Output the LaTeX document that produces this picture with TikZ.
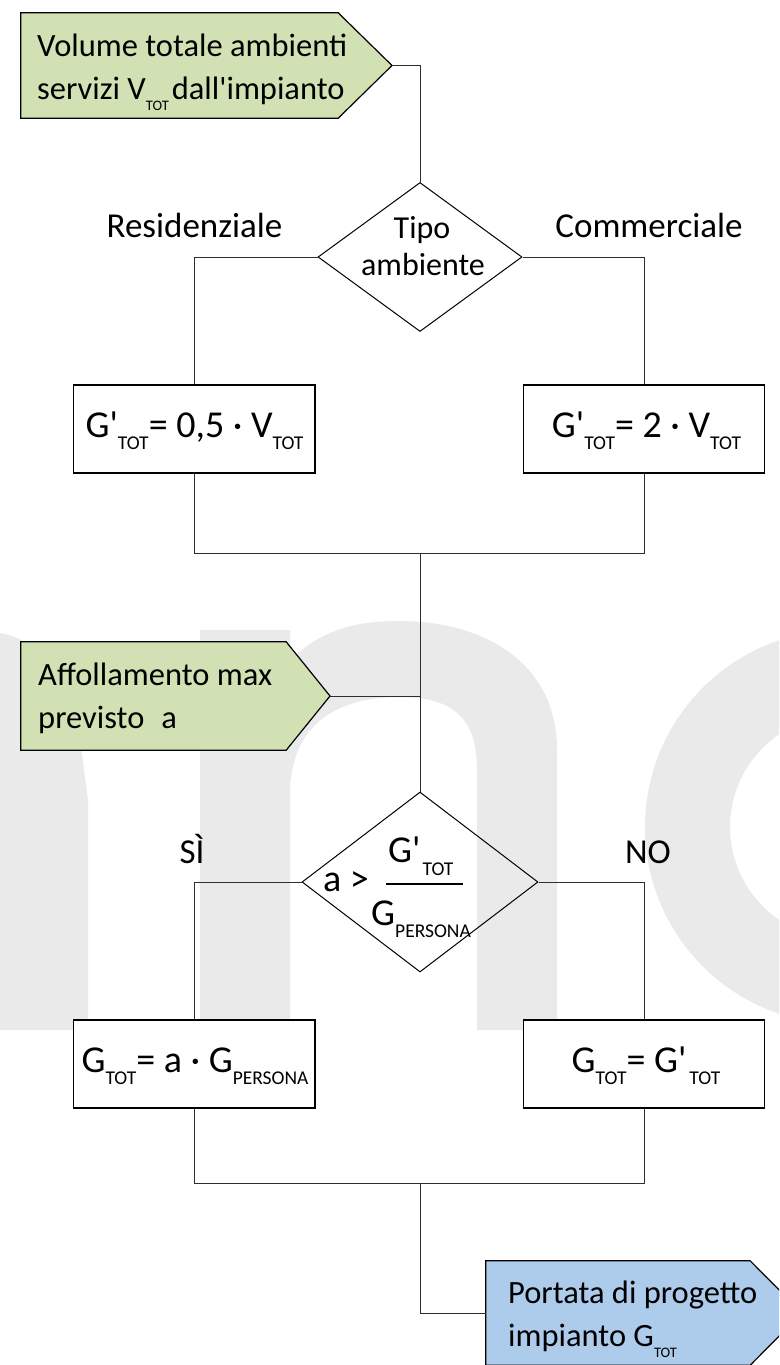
\documentclass[tikz,border=0pt]{standalone}
\usepackage{fontspec}
\setmainfont{Carlito}
\usetikzlibrary{shapes.geometric,calc}
\definecolor{inputgreen}{HTML}{D2E1B4}
\definecolor{outputblue}{HTML}{ADCBEA}
\definecolor{markgrey}{HTML}{EAEAEA}
\definecolor{wirecol}{HTML}{2E2E2E}

% subscripts set as small lowered text, as in the formulas
\newcommand\bigsub[1]{\raisebox{-12pt}{\fontsize{19.5pt}{19.5pt}\selectfont #1}}
\newcommand\smallsub[1]{\raisebox{-11pt}{\fontsize{14.5pt}{14.5pt}\selectfont #1}}
\newcommand\apos{\textquotesingle}

\begin{document}
\begin{tikzpicture}[x=1pt,y=-1pt,
  boxtext/.style={font=\fontsize{32.5pt}{43pt}\selectfont, inner sep=0pt, anchor=base west},
  branchlabel/.style={font=\fontsize{35pt}{42pt}\selectfont, inner sep=0pt, anchor=base},
  decisiontext/.style={font=\fontsize{32pt}{40pt}\selectfont, inner sep=0pt, anchor=base},
  formula/.style={font=\fontsize{38pt}{44pt}\selectfont, inner sep=0pt},
  calcbox/.style={draw=black, line width=1.2pt, fill=white, minimum width=241.5pt, minimum height=88pt, inner sep=0pt},
  decision/.style={draw=black, line width=1pt, diamond, inner sep=0pt},
  body/.style={inner sep=0pt},
  shapeline/.style={draw=black, line width=1.2pt},
  wire/.style={draw=wirecol, line width=1pt},
]
\useasboundingbox (0,0) rectangle (779,1365);
\clip (0,0) rectangle (779,1365);

% background lettering
\fill[markgrey] (0,633) .. controls (45,640) and (76,690) .. (84,770) -- (88,800) -- (88,1030) -- (0,1030) -- cycle;
\fill[markgrey] (200,630) -- (290,630) -- (290,660)
  .. controls (320,632) and (350,621) .. (400,621)
  .. controls (480,621) and (557,660) .. (557,750)
  -- (557,1030) -- (477,1030) -- (477,770)
  .. controls (477,720) and (455,697) .. (400,697)
  .. controls (330,697) and (292,730) .. (290,790)
  -- (290,1030) -- (200,1030) -- cycle;
\fill[markgrey, even odd rule] (842,827) circle[radius=197] (842,827) circle[radius=112];

% input: total volume
\node[body, minimum width=317pt, minimum height=105pt] (in1) at (179.5,65.5) {};
\coordinate (in1tip) at (392,65.5);
\filldraw[shapeline, fill=inputgreen] (in1.north west) -- (in1.north east) -- (in1tip) -- (in1.south east) -- (in1.south west) -- cycle;
\node[boxtext] (in1a) at (37,56) {Volume totale ambienti};
\node[boxtext] (in1b) at (37,99) {servizi V\smallsub{TOT}\kern3pt dall\apos impianto};

% first decision
\node[decision, minimum width=204pt, minimum height=149pt] (d1) at (420,257) {};
\node[decisiontext] (d1a) at (422,238) {Tipo};
\node[decisiontext] (d1b) at (423,275) {ambiente};
\node[branchlabel] (lres) at (194.5,237) {Residenziale};
\node[branchlabel] (lcom) at (649,237) {Commerciale};

% first pair of calculations
\node[calcbox] (b1) at (194.25,429) {};
\node[calcbox] (b2) at (644,429) {};
\node[formula, anchor=base] (f1) at (194.5,437) {G\apos\bigsub{TOT}= 0,5 · V\bigsub{TOT}};
\node[formula, anchor=base] (f2) at (646.5,437) {G\apos\bigsub{TOT}= 2 · V\bigsub{TOT}};
\coordinate (join1) at (420,553);

% input: crowding
\node[body, minimum width=265pt, minimum height=108pt] (in2) at (153.5,696) {};
\coordinate (in2tip) at (330,696);
\filldraw[shapeline, fill=inputgreen] (in2.north west) -- (in2.north east) -- (in2tip) -- (in2.south east) -- (in2.south west) -- cycle;
\node[boxtext] (in2a) at (38,685) {Affollamento max};
\node[boxtext] (in2b) at (38,728) {previsto\hspace{17pt}a};
\coordinate (tee) at (420,696);

% second decision
\node[decision, minimum width=236pt, minimum height=180pt] (d2) at (420,882) {};
\node[formula, anchor=base west] (d2a) at (323,891) {a >};
\node[formula, anchor=base west] (d2num) at (388,862) {G\apos\kern2pt\raisebox{-1pt}{\bigsub{TOT}}};
\node[formula, anchor=base west] (d2den) at (371,925) {G\bigsub{PERSONA}};
\coordinate (barl) at (386,884);
\coordinate (barr) at (463,884);
\draw[line width=1.5pt] (barl) -- (barr);
\node[branchlabel] (lsi) at (192,863) {SÌ};
\node[branchlabel] (lno) at (648,863) {NO};

% second pair of calculations
\node[calcbox] (b3) at (194.25,1064) {};
\node[calcbox] (b4) at (644,1064) {};
\node[formula, anchor=base] (f3) at (195,1072) {G\bigsub{TOT}= a · G\bigsub{PERSONA}};
\node[formula, anchor=base] (f4) at (646,1072) {G\bigsub{TOT}= G\apos\kern3pt\bigsub{TOT}};
\coordinate (join2) at (420,1183);

% output: design flow rate
\node[body, minimum width=264pt, minimum height=104pt] (out) at (618,1313) {};
\coordinate (outtip) at (802,1313);
\filldraw[shapeline, fill=outputblue] (out.north west) -- (out.north east) -- (outtip) -- (out.south east) -- (out.south west) -- cycle;
\node[boxtext] (outa) at (508,1303) {Portata di progetto};
\node[boxtext] (outb) at (508,1346) {impianto G\smallsub{TOT}};

% connectors
\draw[wire] (in1tip) -| (d1.north);
\draw[wire] (d1.west) -| (b1.north);
\draw[wire] (d1.east) -| (b2.north);
\draw[wire] (b1.south) |- (join1);
\draw[wire] (b2.south) |- (join1);
\draw[wire] (join1) -- (d2.north);
\draw[wire] (in2tip) -- (tee);
\draw[wire] (d2.west) -| (b3.north);
\draw[wire] (d2.east) -| (b4.north);
\draw[wire] (b3.south) |- (join2);
\draw[wire] (b4.south) |- (join2);
\draw[wire] (join2) |- (out.west);
\end{tikzpicture}
\end{document}
